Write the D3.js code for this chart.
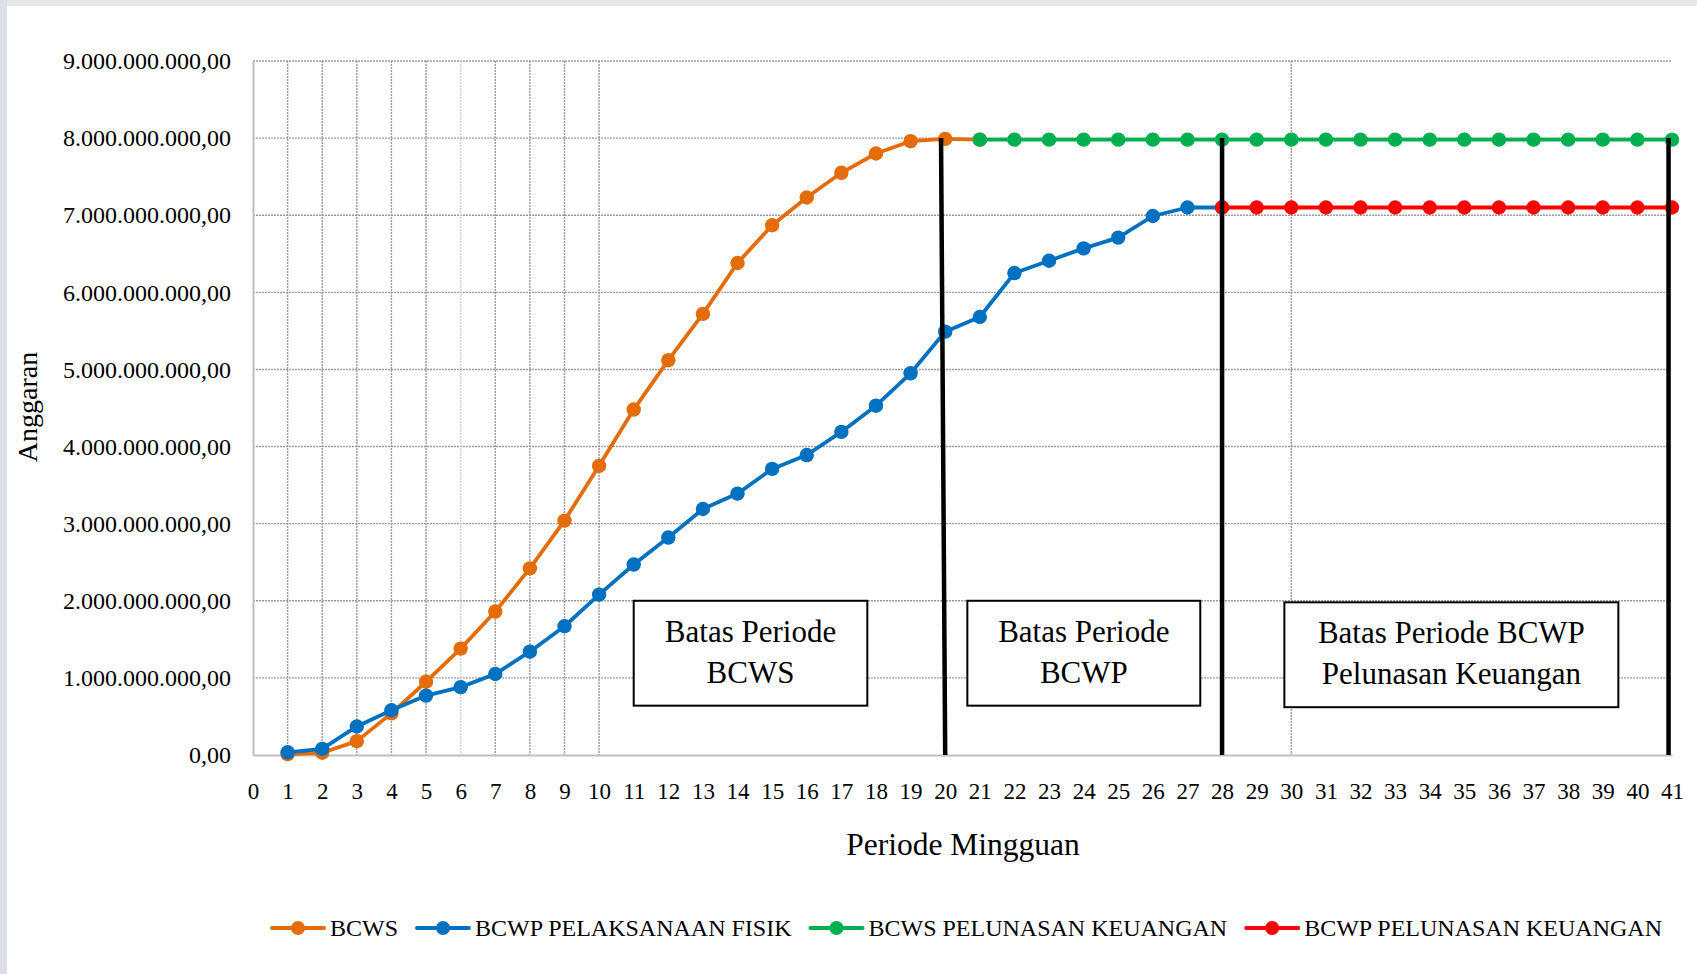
<!DOCTYPE html>
<html>
<head>
<meta charset="utf-8">
<script src="https://cdn.jsdelivr.net/npm/d3@7"></script>
<style>
body{margin:0;background:#fff;overflow:hidden}
svg{display:block}
text{font-family:"Liberation Serif","Times New Roman",serif;fill:#000}
</style>
</head>
<body>
<script>
// data (rupiah)
const ticks_x=[0,1,2,3,4,5,6,7,8,9,10,11,12,13,14,15,16,17,18,19,20,21,22,23,24,25,26,27,28,29,30,31,32,33,34,35,36,37,38,39,40,41]
const ticks_y=[0,1e9,2e9,3e9,4e9,5e9,6e9,7e9,8e9,9e9]
const grid_weeks=[1,2,3,4,5,6,7,8,9,10,30]

const bcws_weeks=[1,2,3,4,5,6,7,8,9,10,11,12,13,14,15,16,17,18,19,20,21]
const bcws_vals=[0.01e9,0.03e9,0.18e9,0.54e9,0.95e9,1.38e9,1.86e9,2.42e9,3.04e9,3.75e9,4.48e9,5.12e9,5.72e9,6.38e9,6.87e9,7.23e9,7.55e9,7.80e9,7.96e9,7.99e9,7.98e9]

const bcwp_weeks=[1,2,3,4,5,6,7,8,9,10,11,12,13,14,15,16,17,18,19,20,21,22,23,24,25,26,27,28]
const bcwp_vals=[0.035e9,0.08e9,0.37e9,0.58e9,0.77e9,0.88e9,1.05e9,1.34e9,1.67e9,2.08e9,2.47e9,2.82e9,3.19e9,3.39e9,3.71e9,3.89e9,4.19e9,4.53e9,4.95e9,5.49e9,5.68e9,6.25e9,6.41e9,6.57e9,6.71e9,6.99e9,7.10e9,7.10e9]

const bcws_lunas_weeks=[21,22,23,24,25,26,27,28,29,30,31,32,33,34,35,36,37,38,39,40,41]
const bcws_lunas_vals=[7.98e9,7.98e9,7.98e9,7.98e9,7.98e9,7.98e9,7.98e9,7.98e9,7.98e9,7.98e9,7.98e9,7.98e9,7.98e9,7.98e9,7.98e9,7.98e9,7.98e9,7.98e9,7.98e9,7.98e9,7.98e9]

const bcwp_lunas_weeks=[28,29,30,31,32,33,34,35,36,37,38,39,40,41]
const bcwp_lunas_vals=[7.10e9,7.10e9,7.10e9,7.10e9,7.10e9,7.10e9,7.10e9,7.10e9,7.10e9,7.10e9,7.10e9,7.10e9,7.10e9,7.10e9]

const series_names=["BCWS","BCWP PELAKSANAAN FISIK","BCWS PELUNASAN KEUANGAN","BCWP PELUNASAN KEUANGAN"]
const series_colors=["#E46C0A","#0070C0","#00B050","#FF0000"]

// period boundary lines (week at top, week at bottom) and the label boxes
const bound_top=[19.88,28,40.9]
const bound_bottom=[20,28,40.9]
const box_lines=[["Batas Periode","BCWS"],["Batas Periode","BCWP"],["Batas Periode BCWP","Pelunasan Keuangan"]]
const box_x0=[11,20.64,29.8]
const box_x1=[17.75,27.37,39.45]
const box_ytop=[2.0e9,2.0e9,1.98e9]
const box_ybot=[0.64e9,0.64e9,0.62e9]

const W=1697,H=974
const p_left=253,p_right=1672,p_top=61,p_bottom=755

const svg=d3.select("body").append("svg").attr("width",W).attr("height",H)

// page edges of the scan
svg.append("rect").attr("x",0).attr("y",0).attr("width",W).attr("height",6).attr("fill","#e6e6e6")
svg.append("rect").attr("x",0).attr("y",0).attr("width",7).attr("height",H).attr("fill","#dcdfe9")

const x=d3.scaleLinear().domain([0,41]).range([p_left,p_right])
const y=d3.scaleLinear().domain([0,9e9]).range([p_bottom,p_top])

const loc=d3.formatLocale({decimal:",",thousands:".",grouping:[3],currency:["Rp",""]})
const fmt=loc.format(",.2f")

// grid
const grid=svg.append("g")
grid.selectAll("line.h").data(ticks_y.filter(d=>d>0)).enter().append("line")
	.attr("x1",p_left).attr("x2",p_right)
	.attr("y1",d=>y(d)).attr("y2",d=>y(d))
	.attr("stroke","#9a9a9a").attr("stroke-width",1.4).attr("stroke-dasharray","2,1")
grid.selectAll("line.v").data(grid_weeks).enter().append("line")
	.attr("x1",d=>x(d)).attr("x2",d=>x(d))
	.attr("y1",p_top).attr("y2",p_bottom)
	.attr("stroke",d=>d==6?"#cfcfcf":"#9a9a9a").attr("stroke-width",1.4).attr("stroke-dasharray","2,1")

// axes
const yaxis=svg.append("g").attr("transform","translate("+p_left+",0)")
	.call(d3.axisLeft(y).tickValues(ticks_y).tickFormat(fmt).tickSize(0).tickPadding(22))
yaxis.select(".domain").attr("stroke","#bfbfbf").attr("stroke-width",2)
yaxis.selectAll("text").attr("font-size",24).attr("font-family","Liberation Serif")

const xaxis=svg.append("g").attr("transform","translate(0,"+p_bottom+")")
	.call(d3.axisBottom(x).tickValues(ticks_x).tickFormat(d3.format("d")).tickSize(0).tickPadding(28))
xaxis.select(".domain").attr("stroke","#bfbfbf").attr("stroke-width",2)
xaxis.selectAll("text").attr("font-size",23).attr("font-family","Liberation Serif")

// series
const series=[
	{w:bcws_weeks,v:bcws_vals},
	{w:bcwp_weeks,v:bcwp_vals},
	{w:bcws_lunas_weeks,v:bcws_lunas_vals},
	{w:bcwp_lunas_weeks,v:bcwp_lunas_vals}
]
const line=d3.line().x(d=>x(d[0])).y(d=>y(d[1]))
series.forEach((s,i)=>{
	const pts=s.w.map((w,j)=>[w,s.v[j]])
	const g=svg.append("g")
	g.append("path").attr("d",line(pts))
		.attr("fill","none").attr("stroke",series_colors[i]).attr("stroke-width",3.8)
		.attr("stroke-linejoin","round")
	g.selectAll("circle").data(pts).enter().append("circle")
		.attr("cx",d=>x(d[0])).attr("cy",d=>y(d[1])).attr("r",7.2)
		.attr("fill",series_colors[i])
})

// boundary lines
svg.selectAll("line.bound").data(bound_top).enter().append("line")
	.attr("x1",d=>x(d)).attr("x2",(d,i)=>x(bound_bottom[i]))
	.attr("y1",y(8e9)).attr("y2",p_bottom)
	.attr("stroke","#000").attr("stroke-width",4.5)

// boxes
box_lines.forEach((ln,i)=>{
	const x0=x(box_x0[i]),x1=x(box_x1[i]),y0=y(box_ytop[i]),y1=y(box_ybot[i])
	svg.append("rect").attr("x",x0).attr("y",y0).attr("width",x1-x0).attr("height",y1-y0)
		.attr("fill","#fff").attr("stroke","#000").attr("stroke-width",2)
	ln.forEach((t,k)=>{
		svg.append("text").attr("x",(x0+x1)/2).attr("y",y0+41+k*41)
			.attr("text-anchor","middle").attr("font-size",31).text(t)
	})
})

// titles
svg.append("text").attr("x",963).attr("y",855).attr("text-anchor","middle")
	.attr("font-size",31.5).text("Periode Mingguan")
svg.append("text").attr("transform","translate(37,407) rotate(-90)").attr("text-anchor","middle")
	.attr("font-size",28).text("Anggaran")

// legend
let lx=272
const ly=928
series_names.forEach((n,i)=>{
	const g=svg.append("g")
	g.append("line").attr("x1",lx).attr("x2",lx+52).attr("y1",ly).attr("y2",ly)
		.attr("stroke",series_colors[i]).attr("stroke-width",4).attr("stroke-linecap","round")
	g.append("circle").attr("cx",lx+26).attr("cy",ly).attr("r",7).attr("fill",series_colors[i])
	const t=g.append("text").attr("x",lx+58).attr("y",ly+8).attr("font-size",24).text(n)
	lx=lx+58+t.node().getComputedTextLength()+19
})
</script>
</body>
</html>
